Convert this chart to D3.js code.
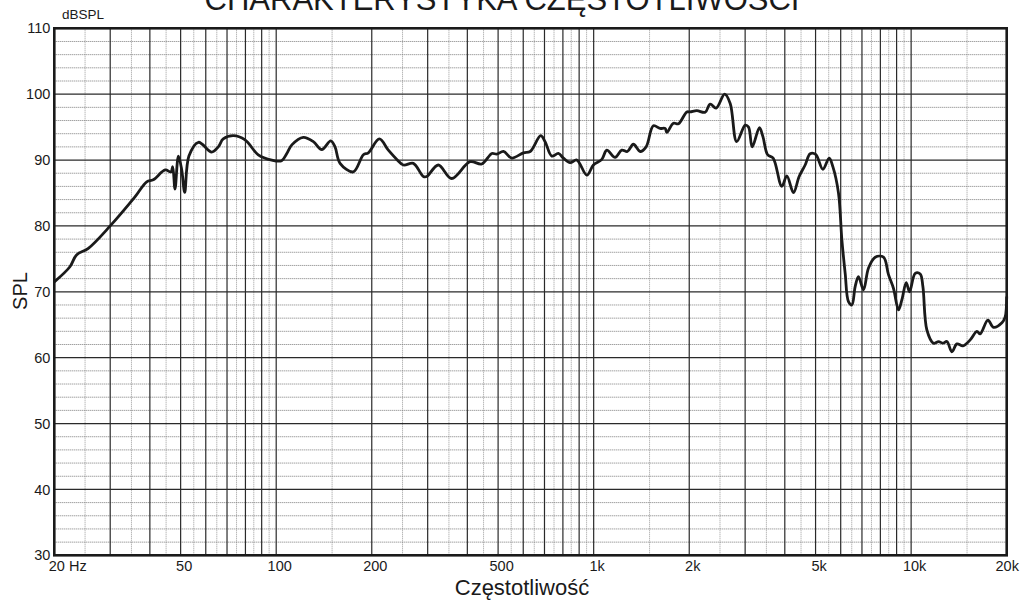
<!DOCTYPE html>
<html lang="pl">
<head>
  <meta charset="utf-8"/>
  <title>Charakterystyka częstotliwości</title>
  <script src="https://cdn.jsdelivr.net/npm/d3@7/dist/d3.min.js"></script>
  <style>
    html, body { margin:0; padding:0; background:#fff; overflow:hidden; }
    svg { display:block; font-family:"Liberation Sans", Arial, sans-serif; }
  </style>
</head>
<body>
  <svg width="1030" height="603"></svg>

  <script>
  // pomiar: częstotliwość [Hz] i poziom [dB SPL]
  const freqs = [20, 22.4, 23.5, 25.6, 30, 35.9, 39.1, 41, 44.7, 46.6,
    47.2, 48, 49.2, 50.4, 51.5, 53.1, 56.9, 62.6, 65.7, 68.1,
    73.3, 79.8, 87.8, 96.8, 104, 108, 112, 121.7, 130.9, 139.2,
    148.5, 153.2, 158.9, 175, 188.2, 195.1, 211.3, 225.6, 239.8, 251.6,
    270.4, 290.8, 298, 324, 357, 408, 444, 478, 495, 520,
    552, 601, 631, 681, 703, 738, 774, 803, 843, 885,
    952, 998, 1061, 1100, 1168, 1226, 1277, 1334, 1401, 1463,
    1542, 1619, 1679, 1700, 1783, 1849, 1965, 2013, 2113, 2245,
    2328, 2431, 2586, 2692, 2822, 3002, 3075, 3158, 3328, 3413,
    3532, 3676, 3914, 4060, 4259, 4438, 4636, 4808, 5004, 5272,
    5518, 5668, 5904, 6051, 6198, 6348, 6506, 6664, 6826, 7079,
    7340, 7706, 8184, 8486, 8800, 9124, 9352, 9650, 9884, 10300,
    10680, 10890, 11210, 11760, 12200, 12590, 12960, 13440, 13940, 14560,
    15350, 16110, 16500, 17450, 18170, 19320, 19780, 20000];
  const spl = [71.5, 73.8, 75.6, 76.6, 80.0, 84.4, 86.7, 87.0, 88.5, 88.2,
    89.0, 85.6, 90.6, 88.5, 85.1, 90.6, 92.7, 91.2, 92.0, 93.2,
    93.7, 93.05, 90.8, 90.0, 89.9, 91.0, 92.3, 93.45, 92.8, 91.6,
    92.9, 92.0, 89.5, 88.2, 90.8, 91.1, 93.2, 91.5, 90.1, 89.25,
    89.5, 87.5, 87.5, 89.25, 87.2, 89.75, 89.4, 91.0, 90.9, 91.3,
    90.3, 91.1, 91.3, 93.7, 92.8, 90.6, 91.0, 90.3, 89.6, 90.0,
    87.7, 89.25, 90.1, 91.5, 90.4, 91.5, 91.3, 92.4, 91.3, 92.0,
    95.2, 94.8, 94.8, 94.2, 95.6, 95.5, 97.3, 97.3, 97.5, 97.25,
    98.5, 97.9, 100.0, 98.6, 92.8, 95.3, 95.0, 92.0, 94.9, 93.55,
    90.8, 90.3, 86.0, 87.6, 85.05, 87.5, 89.25, 90.95, 90.85, 88.6,
    90.3, 89.0, 85.0, 77.9, 72.8, 68.5, 68.0, 70.8, 72.3, 70.3,
    73.6, 75.25, 75.25, 72.6, 70.5, 67.25, 68.8, 71.4, 70.0, 72.8,
    72.7, 70.8, 64.2, 62.2, 62.45, 62.2, 62.45, 60.9, 62.1, 61.8,
    62.7, 64.0, 63.6, 65.7, 64.6, 65.3, 66.2, 69.3];

  // opisy osi
  const xTicks      = [20, 50, 100, 200, 500, 1000, 2000, 5000, 10000, 20000];
  const xTickLabels = ["20 Hz", "50", "100", "200", "500", "1k", "2k", "5k", "10k", "20k"];
  const yTicks      = [30, 40, 50, 60, 70, 80, 90, 100, 110];
  const decades     = [10, 100, 1000, 10000];

  const svg = d3.select("svg");
  const L = 54.3, T = 28.3, R = 1006.7, B = 555.3;

  const x = d3.scaleLog().domain([20, 20000]).range([L, R]);
  const y = d3.scaleLinear().domain([30, 110]).range([B, T]);

  // linie siatki: ciągłe na 1..9 w każdej dekadzie, kropkowane w połowie
  const major = [], minor = [];
  decades.forEach(d => {
    for (let k = 1; k <= 9; k++) {
      const f = k * d, h = (k + 0.5) * d;
      if (f > 20 && f < 20000) major.push(f);
      if (h > 20 && h < 20000 && k < 10) minor.push(h);
    }
  });
  const yMinor = d3.range(32, 110, 2).filter(v => v % 10 !== 0);
  const yMajor = yTicks.filter(v => v > 30 && v < 110);

  const grid = svg.append("g");
  grid.selectAll(".vmin").data(minor).join("line")
    .attr("x1", d => x(d)).attr("x2", d => x(d))
    .attr("y1", T).attr("y2", B)
    .attr("stroke", "#9a9a9a").attr("stroke-width", 1)
    .attr("stroke-dasharray", "1,1");
  grid.selectAll(".hmin").data(yMinor).join("line")
    .attr("x1", L).attr("x2", R)
    .attr("y1", d => y(d)).attr("y2", d => y(d))
    .attr("stroke", "#7a7a7a").attr("stroke-width", 1)
    .attr("stroke-dasharray", "1,1");
  grid.selectAll(".vmaj").data(major).join("line")
    .attr("x1", d => x(d)).attr("x2", d => x(d))
    .attr("y1", T).attr("y2", B)
    .attr("stroke", "#2a2a2a").attr("stroke-width", 1.2);
  grid.selectAll(".hmaj").data(yMajor).join("line")
    .attr("x1", L).attr("x2", R)
    .attr("y1", d => y(d)).attr("y2", d => y(d))
    .attr("stroke", "#2a2a2a").attr("stroke-width", 1.2);

  // krzywa
  const pts = freqs.map((f, i) => [f, spl[i]]);
  const line = d3.line()
    .x(d => x(d[0])).y(d => y(d[1]))
    .curve(d3.curveCatmullRom.alpha(0.5));
  svg.append("path")
    .datum(pts)
    .attr("d", line)
    .attr("fill", "none")
    .attr("stroke", "#1a1a1a")
    .attr("stroke-width", 2.8)
    .attr("stroke-linejoin", "round");

  // ramka
  svg.append("rect")
    .attr("x", L).attr("y", T)
    .attr("width", R - L).attr("height", B - T)
    .attr("fill", "none").attr("stroke", "#1a1a1a").attr("stroke-width", 2.6);

  // osie
  const xAxis = svg.append("g")
    .attr("transform", `translate(0,${B})`)
    .call(d3.axisBottom(x).tickValues(xTicks)
      .tickFormat((d, i) => xTickLabels[i]).tickSize(0).tickPadding(0));
  xAxis.select(".domain").remove();
  xAxis.selectAll("text")
    .attr("y", 15.5).attr("dy", 0)
    .attr("font-size", 14.5).attr("fill", "#1a1a1a")
    .attr("font-family", "Liberation Sans, Arial, sans-serif")
    .attr("dx", (d, i) => i === 0 ? -6 : (i === xTicks.length - 1 ? 0 : 3))
    .attr("text-anchor", (d, i) => i === 0 ? "start" : "middle");

  const yAxis = svg.append("g")
    .attr("transform", `translate(${L},0)`)
    .call(d3.axisLeft(y).tickValues(yTicks).tickSize(0).tickPadding(4));
  yAxis.select(".domain").remove();
  yAxis.selectAll("text")
    .attr("font-size", 14.5).attr("fill", "#1a1a1a")
    .attr("font-family", "Liberation Sans, Arial, sans-serif");

  // napisy
  svg.append("text")
    .attr("x", 502).attr("y", 10)
    .attr("text-anchor", "middle")
    .attr("font-size", 31).attr("fill", "#1a1a1a")
    .text("CHARAKTERYSTYKA CZĘSTOTLIWOŚCI");

  svg.append("text")
    .attr("x", 62).attr("y", 19)
    .attr("font-size", 13.5).attr("fill", "#1a1a1a")
    .text("dBSPL");

  svg.append("text")
    .attr("transform", "translate(27,291) rotate(-90)")
    .attr("text-anchor", "middle")
    .attr("font-size", 20).attr("fill", "#1a1a1a")
    .text("SPL");

  svg.append("text")
    .attr("x", 522).attr("y", 595)
    .attr("text-anchor", "middle")
    .attr("font-size", 22).attr("fill", "#1a1a1a")
    .text("Częstotliwość");
  </script>
</body>
</html>
